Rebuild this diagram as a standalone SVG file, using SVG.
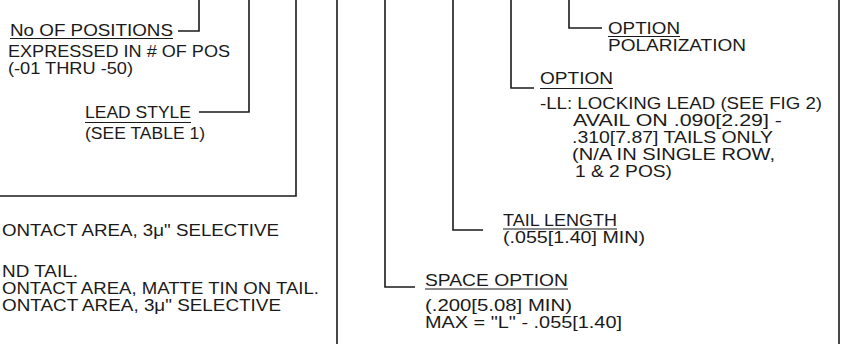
<svg xmlns="http://www.w3.org/2000/svg" width="845" height="344" viewBox="0 0 845 344">
<style>
  text { font-family: "Liberation Sans", Arial, sans-serif; font-size: 16.5px; fill: #1a1a1a; }
  .ln { stroke: #1a1a1a; stroke-width: 1.6; fill: none; }
  .ul { stroke: #1a1a1a; stroke-width: 1.2; fill: none; }
</style>
<rect width="845" height="344" fill="#ffffff"/>
<g id="connectors">
  <polyline class="ln" points="178,31 199,31 199,0"/>
  <polyline class="ln" points="199,112 249,112 249,0"/>
  <polyline class="ln" points="0,196 296,196 296,0"/>
  <line class="ln" x1="337" y1="0" x2="337" y2="344"/>
  <polyline class="ln" points="415,287 385,287 385,0"/>
  <polyline class="ln" points="483,230 453,230 453,0"/>
  <polyline class="ln" points="534,88 511,88 511,0"/>
  <polyline class="ln" points="602,28 569,28 569,0"/>
  <line class="ln" x1="839" y1="0" x2="839" y2="344"/>
</g>
<g id="positions">
  <text x="10" y="36" textLength="163" lengthAdjust="spacingAndGlyphs">No OF POSITIONS</text>
  <line class="ul" x1="10" y1="38.5" x2="173" y2="38.5"/>
  <text x="8" y="56.5" textLength="222" lengthAdjust="spacingAndGlyphs">EXPRESSED IN # OF POS</text>
  <text x="8" y="73.5" textLength="125" lengthAdjust="spacingAndGlyphs">(-01 THRU -50)</text>
</g>
<g id="lead-style">
  <text x="85" y="118" textLength="106" lengthAdjust="spacingAndGlyphs">LEAD STYLE</text>
  <line class="ul" x1="85" y1="122.5" x2="191" y2="122.5"/>
  <text x="85" y="139" textLength="120" lengthAdjust="spacingAndGlyphs">(SEE TABLE 1)</text>
</g>
<g id="plating-notes">
  <text x="2" y="236" textLength="277" lengthAdjust="spacingAndGlyphs">ONTACT AREA, 3μ" SELECTIVE</text>
  <text x="2" y="277" textLength="76" lengthAdjust="spacingAndGlyphs">ND TAIL.</text>
  <text x="2" y="294" textLength="317" lengthAdjust="spacingAndGlyphs">ONTACT AREA, MATTE TIN ON TAIL.</text>
  <text x="2" y="311" textLength="279" lengthAdjust="spacingAndGlyphs">ONTACT AREA, 3μ" SELECTIVE</text>
</g>
<g id="polarization-option">
  <text x="608" y="34" textLength="72" lengthAdjust="spacingAndGlyphs">OPTION</text>
  <line class="ul" x1="608" y1="36.5" x2="680" y2="36.5"/>
  <text x="608" y="51" textLength="138" lengthAdjust="spacingAndGlyphs">POLARIZATION</text>
</g>
<g id="lead-option">
  <text x="540" y="84" textLength="73" lengthAdjust="spacingAndGlyphs">OPTION</text>
  <line class="ul" x1="540" y1="88.5" x2="613" y2="88.5"/>
  <text x="540" y="109" textLength="282" lengthAdjust="spacingAndGlyphs">-LL: LOCKING LEAD (SEE FIG 2)</text>
  <text x="573" y="126" textLength="209" lengthAdjust="spacingAndGlyphs">AVAIL ON .090[2.29] -</text>
  <text x="572" y="143" textLength="201" lengthAdjust="spacingAndGlyphs">.310[7.87] TAILS ONLY</text>
  <text x="572" y="159.5" textLength="203" lengthAdjust="spacingAndGlyphs">(N/A IN SINGLE ROW,</text>
  <text x="575" y="176.5" textLength="97" lengthAdjust="spacingAndGlyphs">1 &amp; 2 POS)</text>
</g>
<g id="tail-length">
  <text x="503" y="226" textLength="114" lengthAdjust="spacingAndGlyphs">TAIL LENGTH</text>
  <line class="ul" x1="503" y1="229" x2="617" y2="229"/>
  <text x="503" y="242.5" textLength="142" lengthAdjust="spacingAndGlyphs">(.055[1.40] MIN)</text>
</g>
<g id="space-option">
  <text x="425" y="310.5" textLength="147" lengthAdjust="spacingAndGlyphs">(.200[5.08] MIN)</text>
  <text x="425" y="286" textLength="143" lengthAdjust="spacingAndGlyphs">SPACE OPTION</text>
  <line class="ul" x1="425" y1="289" x2="568" y2="289"/>
  <text x="425" y="328" textLength="197" lengthAdjust="spacingAndGlyphs">MAX = "L" - .055[1.40]</text>
</g>
</svg>
